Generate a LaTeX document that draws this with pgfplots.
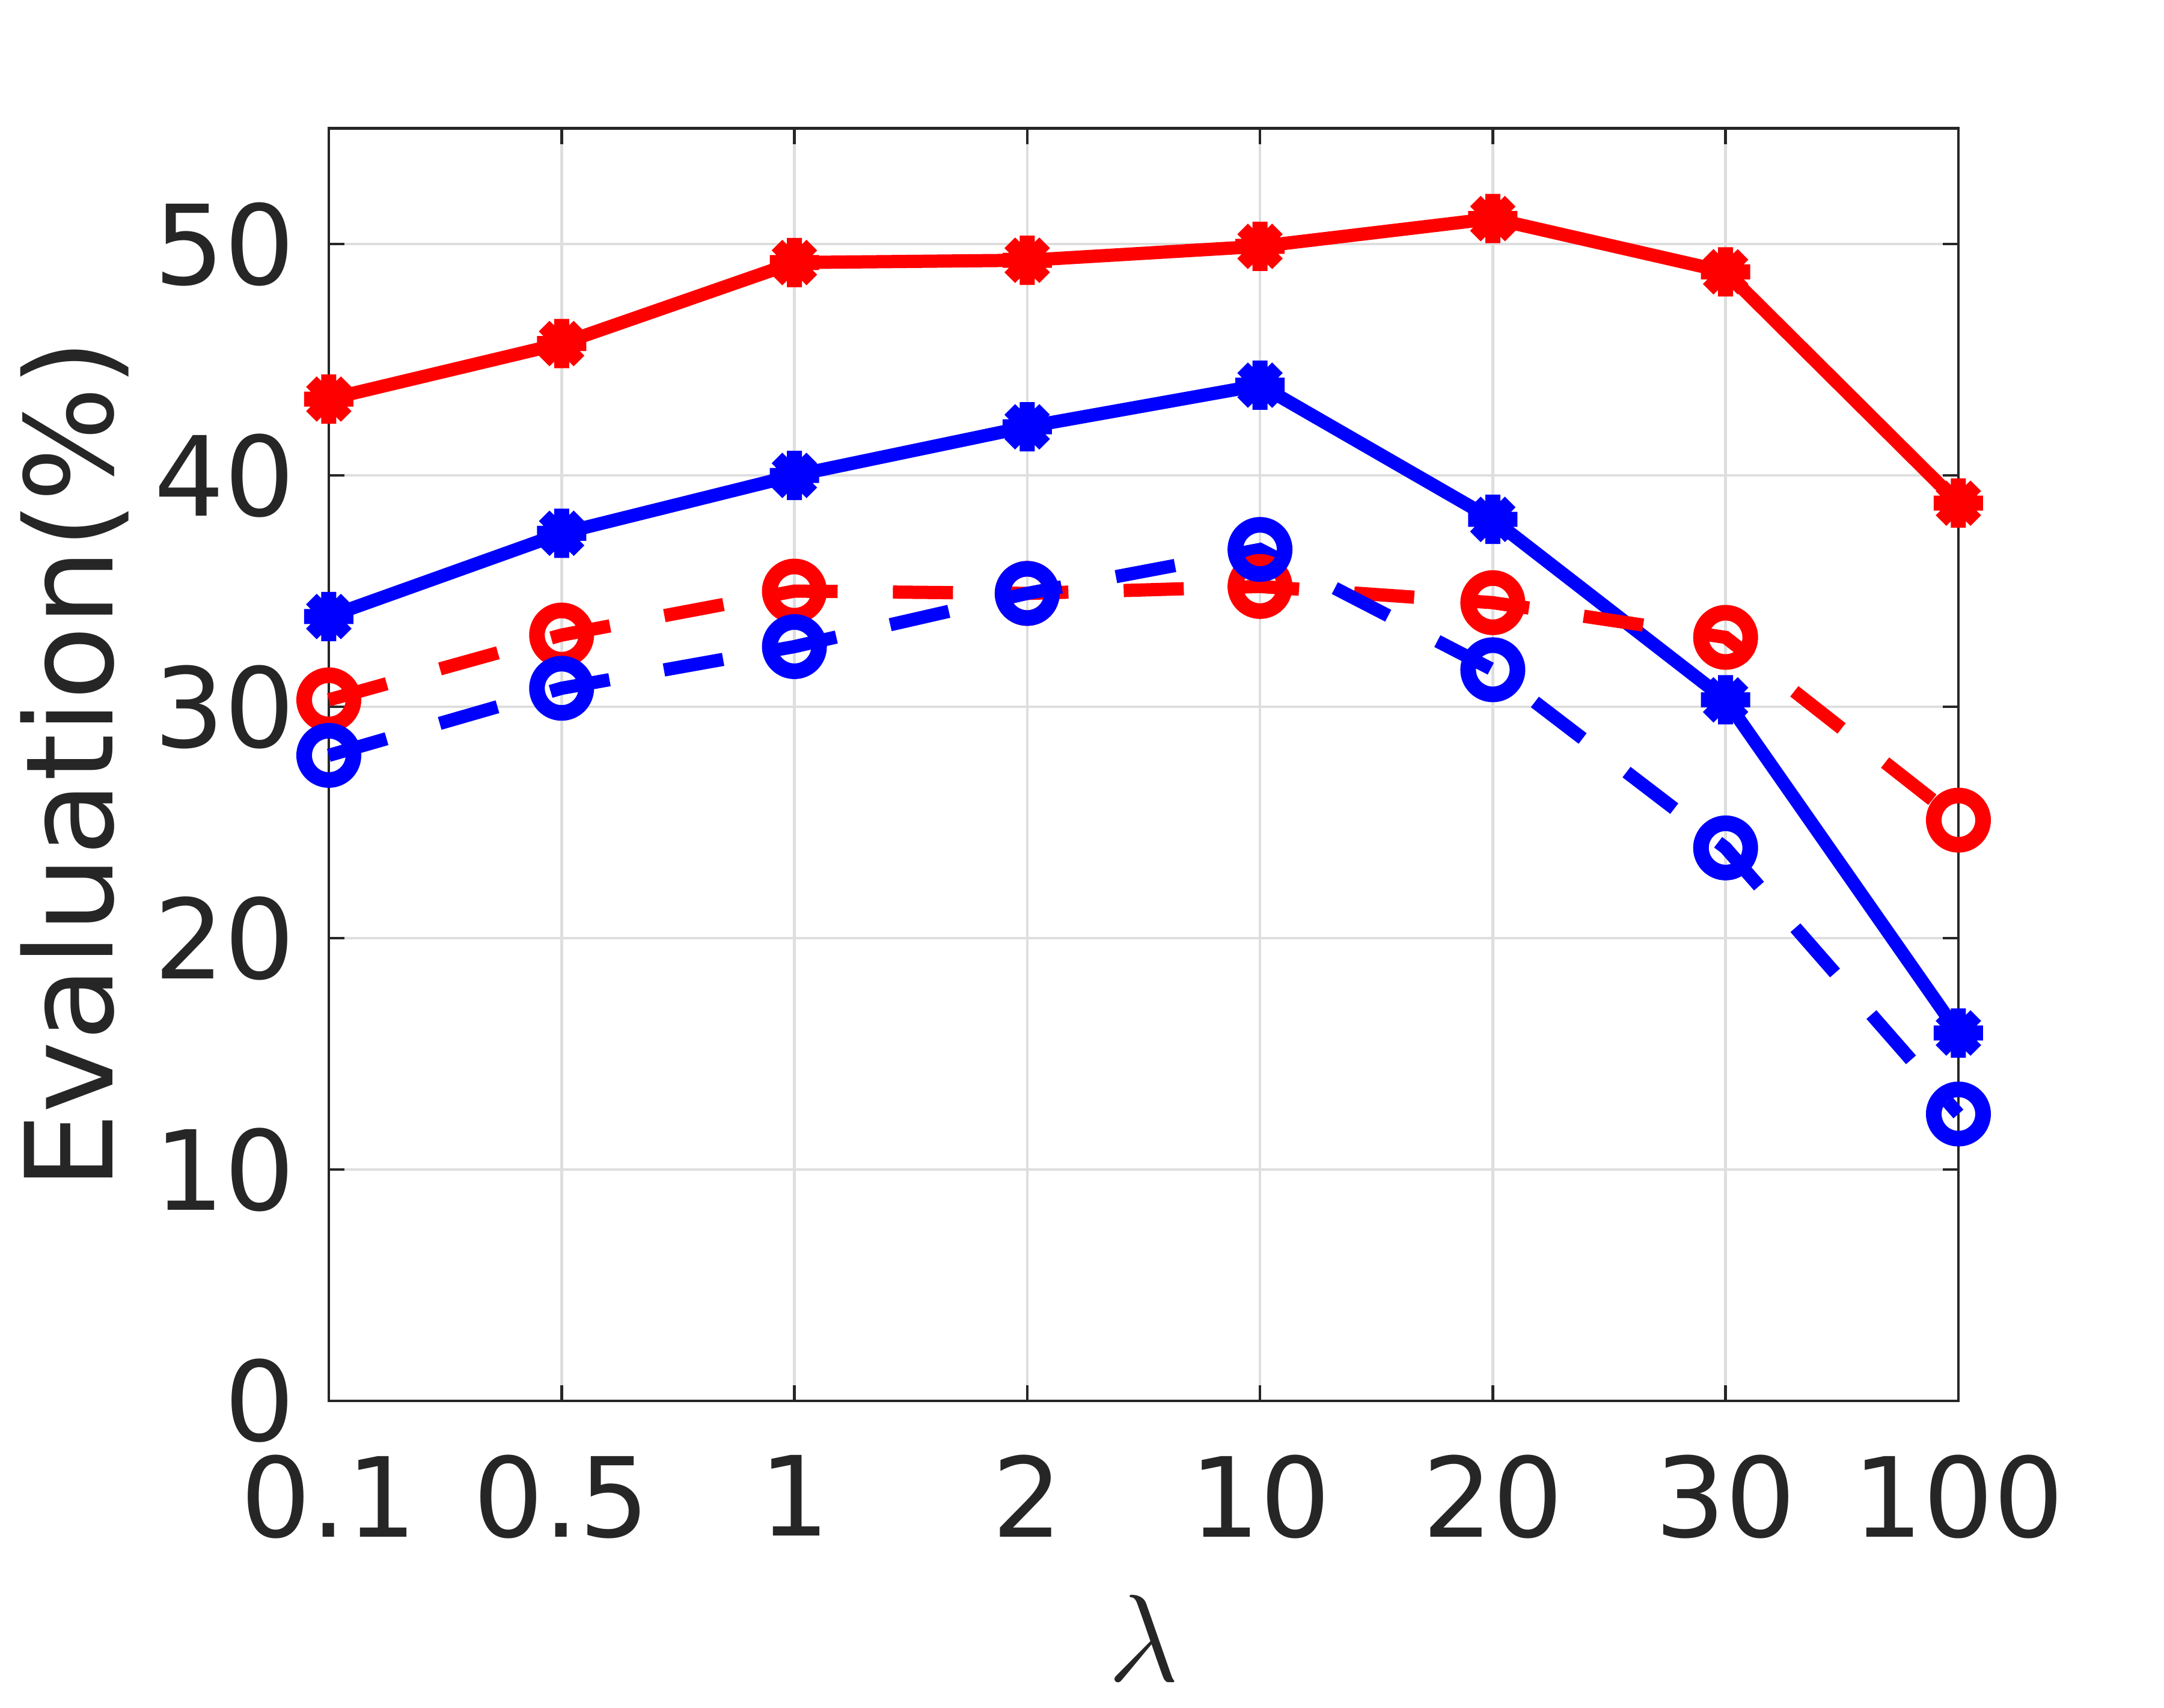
\documentclass[border=0pt]{standalone}
\usepackage{fontspec}
\setmainfont{DejaVu Sans}
\usepackage{pgfplots}
\pgfplotsset{compat=1.18}
\definecolor{mgray}{rgb}{0.15,0.15,0.15}
\definecolor{gridgray}{rgb}{0.87,0.87,0.87}
\pgfdeclareplotmark{mstar}{%
  \pgfpathmoveto{\pgfqpoint{-\pgfplotmarksize}{0pt}}%
  \pgfpathlineto{\pgfqpoint{\pgfplotmarksize}{0pt}}%
  \pgfpathmoveto{\pgfqpoint{0pt}{-\pgfplotmarksize}}%
  \pgfpathlineto{\pgfqpoint{0pt}{\pgfplotmarksize}}%
  \pgfpathmoveto{\pgfqpoint{-0.707\pgfplotmarksize}{-0.707\pgfplotmarksize}}%
  \pgfpathlineto{\pgfqpoint{0.707\pgfplotmarksize}{0.707\pgfplotmarksize}}%
  \pgfpathmoveto{\pgfqpoint{-0.707\pgfplotmarksize}{0.707\pgfplotmarksize}}%
  \pgfpathlineto{\pgfqpoint{0.707\pgfplotmarksize}{-0.707\pgfplotmarksize}}%
  \pgfusepathqstroke}
\begin{document}
\begin{tikzpicture}
\useasboundingbox[fill=white] (-54.7bp,-51.1bp) rectangle (305.3bp,233.1bp);
\begin{axis}[
  at={(0,0)}, anchor=south west,
  scale only axis, width=271.1bp, height=211.75bp,
  xmin=0, xmax=7, ymin=0, ymax=55,
  xtick={0,1,2,3,4,5,6,7},
  xticklabels={0.1,0.5,1,2,10,20,30,100},
  ytick={0,10,20,30,40,50},
  grid=major,
  grid style={line width=0.45bp, color=gridgray},
  axis line style={line width=0.45bp, color=mgray},
  tick style={line width=0.45bp, color=mgray},
  major tick length=2.6bp, tick align=inside,
  xtick pos=both, ytick pos=both,
  xticklabel pos=left, yticklabel pos=left,
  /pgf/number format/assume math mode=true,
  tick label style={font=\fontsize{18.4bp}{22bp}\selectfont, text=mgray},
  xticklabel style={anchor=north, inner sep=0pt, yshift=-8.8bp},
  yticklabel style={anchor=east, inner sep=0pt, xshift=-5.4bp},
  xlabel={$\lambda$},
  every axis x label/.style={at={([yshift=-46.6bp]axis description cs:0.5,0)}, anchor=base, inner sep=0pt, font=\fontsize{20.2bp}{24bp}\selectfont, text=mgray},
  ylabel={Evaluation(\%)},
  every axis y label/.style={at={([xshift=-35.9bp]axis description cs:0,0.5)}, rotate=90, anchor=base, inner sep=0pt, font=\fontsize{20.2bp}{24bp}\selectfont, text=mgray},
  clip=false,
]
\addplot[color=red, line width=2.2bp, mark=mstar, mark size=4.1bp, mark options={solid, line width=2.5bp}]
  coordinates {(0,43.3)(1,45.7)(2,49.2)(3,49.3)(4,49.9)(5,51.1)(6,48.8)(7,38.8)};
\addplot[color=blue, line width=2.2bp, mark=mstar, mark size=4.1bp, mark options={solid, line width=2.5bp}]
  coordinates {(0,33.9)(1,37.5)(2,40.0)(3,42.1)(4,43.9)(5,38.1)(6,30.3)(7,15.9)};
\addplot[color=red, line width=2.2bp, dash pattern=on 10bp off 9.2bp, mark=o, mark size=4.1bp, mark options={solid, line width=2.6bp}]
  coordinates {(0,30.3)(1,33.1)(2,35.0)(3,34.9)(4,35.2)(5,34.5)(6,33.0)(7,25.1)};
\addplot[color=blue, line width=2.2bp, dash pattern=on 10bp off 9.2bp, mark=o, mark size=4.1bp, mark options={solid, line width=2.6bp}]
  coordinates {(0,27.9)(1,30.8)(2,32.6)(3,34.9)(4,36.8)(5,31.6)(6,23.9)(7,12.4)};
\end{axis}
\end{tikzpicture}
\end{document}
